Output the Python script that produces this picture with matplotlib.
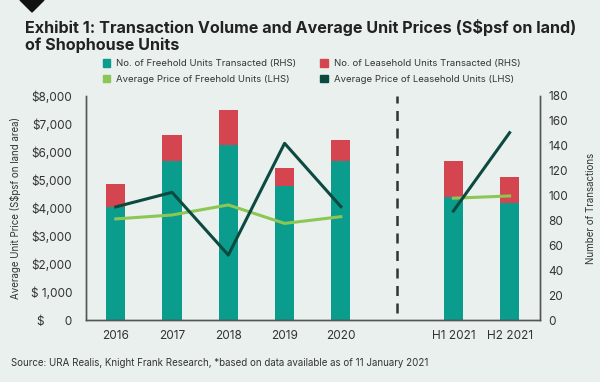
import numpy as np
import matplotlib.pyplot as plt
from matplotlib.patches import Polygon

# data
periods = ["2016", "2017", "2018", "2019", "2020", "H1 2021", "H2 2021"]
positions = [0, 1, 2, 3, 4, 6, 7]
freehold_units = [91, 128, 141, 108, 128, 99, 94]
leasehold_units = [18, 21, 28, 14, 17, 29, 21]
freehold_price = [3610, 3750, 4110, 3450, 3690, 4350, 4430]
leasehold_price = [4040, 4560, 2320, 6310, 4050, 3890, 6690]

left_ticks = np.arange(0, 8001, 1000)
left_labels = ["$      0", "$ 1,000", "$2,000", "$3,000", "$4,000",
               "$5,000", "$6,000", "$7,000", "$8,000"]
right_ticks = np.arange(0, 181, 20)

bg = '#e9f0ee'
c_free = '#0a9c8c'
c_lease = '#d5454f'
c_fprice = '#8cc654'
c_lprice = '#0c4a40'
txt = '#333333'

plt.rcParams['font.family'] = ['Inter', 'DejaVu Sans']

fig = plt.figure(figsize=(6, 3.82), dpi=100)
fig.patch.set_facecolor(bg)
ax = fig.add_axes([0.1433, 0.1623, 0.9 - 0.1433, 0.7487 - 0.1623])
ax.set_facecolor(bg)
ax2 = ax.twinx()

# bars on the right axis
ax2.bar(positions, freehold_units, width=0.34, color=c_free, zorder=2)
ax2.bar(positions, leasehold_units, width=0.34, bottom=freehold_units,
        color=c_lease, zorder=2)
ax2.set_ylim(0, 180)
ax2.set_yticks(right_ticks)

# lines on the left axis, drawn above bars
ax.set_zorder(ax2.get_zorder() + 1)
ax.patch.set_visible(False)
ax.plot(positions[:5], freehold_price[:5], color=c_fprice, lw=2.2)
ax.plot(positions[5:], freehold_price[5:], color=c_fprice, lw=2.2)
ax.plot(positions[:5], leasehold_price[:5], color=c_lprice, lw=2.2)
ax.plot(positions[5:], leasehold_price[5:], color=c_lprice, lw=2.2)
ax.axvline(5, ymin=0.03, ymax=1.0, color='#333333', lw=1.8, ls=(0, (4, 3)))

ax.set_ylim(0, 8000)
ax.set_xlim(-0.53, 7.54)
ax.set_yticks(left_ticks)
ax.set_yticklabels(left_labels)
ax.set_xticks(positions)
ax.set_xticklabels(periods)

for a in (ax, ax2):
    a.tick_params(length=0, labelsize=8.5, colors=txt, pad=6)
    a.spines['top'].set_visible(False)
    for s in ('left', 'right', 'bottom'):
        a.spines[s].set_color('#555555')
        a.spines[s].set_linewidth(1.0)
ax.tick_params(axis='y', pad=10)
ax.tick_params(axis='x', pad=7)

ax.set_ylabel("Average Unit Price (S$psf on land area)", fontsize=7, color=txt, labelpad=7)
ax2.set_ylabel("Number of Transactions", fontsize=7, color=txt, labelpad=13)

# legend
handles = [
    plt.Rectangle((0, 0), 1, 1, color=c_free),
    plt.Rectangle((0, 0), 1, 1, color=c_lease),
    plt.Rectangle((0, 0), 1, 1, color=c_fprice),
    plt.Rectangle((0, 0), 1, 1, color=c_lprice),
]
labels = ["No. of Freehold Units Transacted (RHS)",
          "No. of Leasehold Units Transacted (RHS)",
          "Average Price of Freehold Units (LHS)",
          "Average Price of Leasehold Units (LHS)"]
order = [0, 2, 1, 3]
fig.legend([handles[i] for i in order], [labels[i] for i in order],
           ncol=2, loc='center', bbox_to_anchor=(0.519, 0.813),
           frameon=False, fontsize=6.9, handlelength=0.8, handleheight=0.8,
           handletextpad=0.6, columnspacing=2.5, labelspacing=0.65,
           labelcolor=txt)

fig.text(0.042, 0.914, "Exhibit 1: Transaction Volume and Average Unit Prices (S$psf on land)",
         fontsize=11.6, fontweight='bold', color='#222222', va='baseline')
fig.text(0.042, 0.870, "of Shophouse Units",
         fontsize=11.6, fontweight='bold', color='#222222', va='baseline')
fig.text(0.018, 0.043, "Source: URA Realis, Knight Frank Research, *based on data available as of 11 January 2021",
         fontsize=7.0, color=txt)

# black marker at the top
fig.patches.append(Polygon([[20 / 600, 1.0], [44 / 600, 1.0], [32 / 600, 1 - 12 / 382]],
                           closed=True, transform=fig.transFigure,
                           color='#111111', figure=fig))

fig.savefig("out.png", dpi=100, facecolor=bg)
